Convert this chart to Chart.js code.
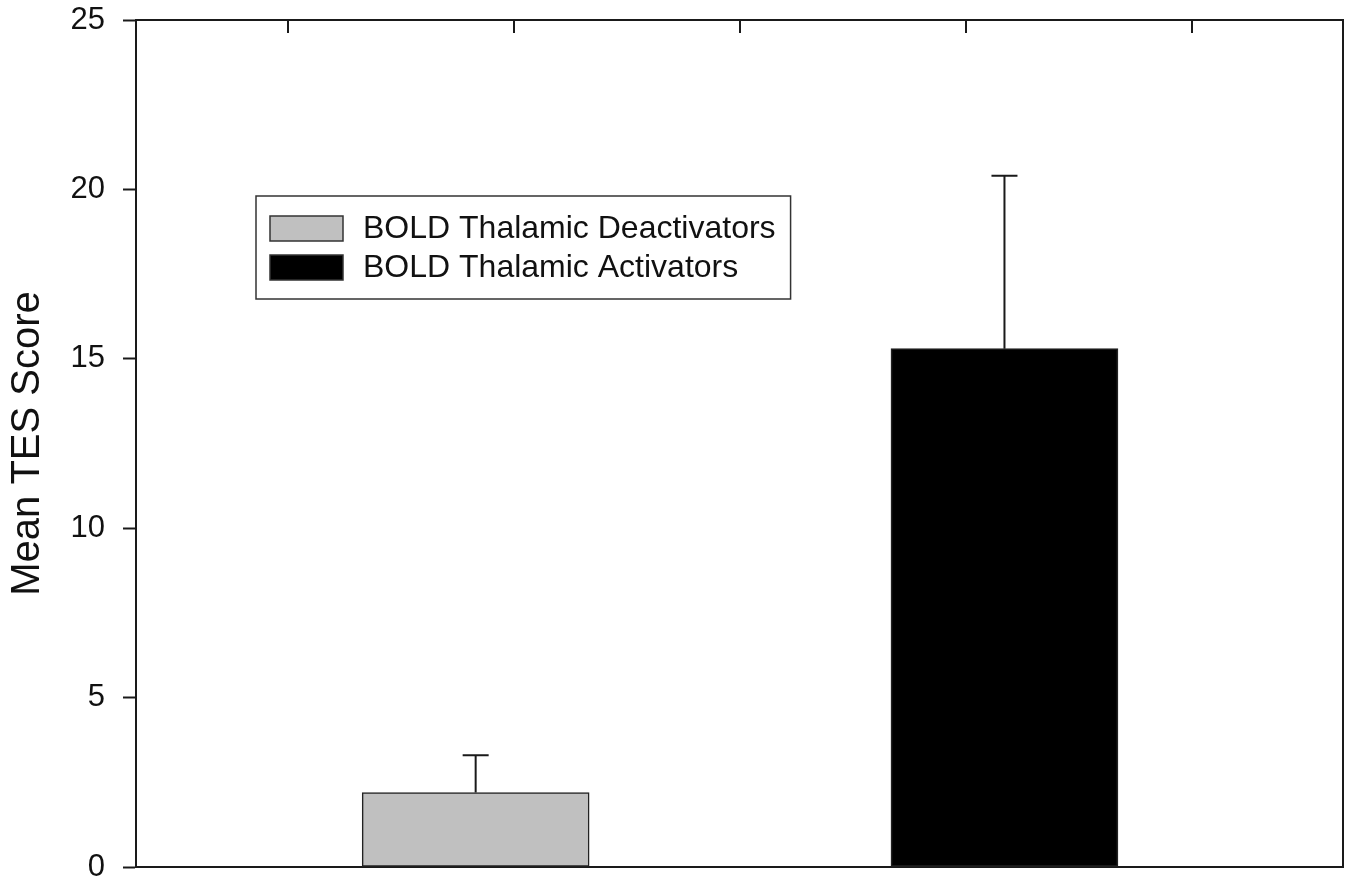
<!DOCTYPE html>
<html lang="en">
<head>
    <style>
        body {
            margin: 0;
            background-color: #fff;
        }

        #chartContainer {
            width: 1350px;
            height: 880px;
        }
    </style>
</head>
<body>

<div id="chartContainer">
    <canvas id="tesChart"></canvas>
</div>

<script src="https://cdn.jsdelivr.net/npm/chart.js"></script>
<script>
    // Values
    const groups = ['BOLD Thalamic Deactivators', 'BOLD Thalamic Activators'];
    const barX = [1.83, 4.17];
    const meanTES = [2.2, 15.3];
    const errUp = [1.1, 5.1];
    const barColors = ['#c0c0c0', '#000000'];
    const yTicks = [0, 5, 10, 15, 20, 25];
    const topTicks = [1, 2, 3, 4, 5];

    const fontFamily = 'Arial, "Liberation Sans", sans-serif';
    const axisColor = '#1a1a1a';

    // Upward error bars with caps
    const errorBars = {
        id: 'errorBars',
        afterDatasetsDraw(chart) {
            const ctx = chart.ctx;
            const yScale = chart.scales.y;
            ctx.save();
            ctx.strokeStyle = axisColor;
            ctx.lineWidth = 2;
            chart.data.datasets.forEach((ds, i) => {
                const bar = chart.getDatasetMeta(i).data[0];
                const top = yScale.getPixelForValue(meanTES[i] + errUp[i]);
                ctx.beginPath();
                ctx.moveTo(bar.x, bar.y);
                ctx.lineTo(bar.x, top);
                ctx.moveTo(bar.x - 13, top);
                ctx.lineTo(bar.x + 13, top);
                ctx.stroke();
            });
            ctx.restore();
        }
    };

    // Inward tick marks on the top axis
    const topTickMarks = {
        id: 'topTickMarks',
        afterDraw(chart) {
            const ctx = chart.ctx;
            const x2 = chart.scales.x2;
            const top = chart.chartArea.top;
            ctx.save();
            ctx.strokeStyle = axisColor;
            ctx.lineWidth = 2;
            topTicks.forEach(t => {
                const px = Math.round(x2.getPixelForValue(t));
                ctx.beginPath();
                ctx.moveTo(px, top);
                ctx.lineTo(px, top + 13);
                ctx.stroke();
            });
            ctx.restore();
        }
    };

    // Boxed legend inside the plot area
    const boxLegend = {
        id: 'boxLegend',
        afterDraw(chart) {
            const ctx = chart.ctx;
            const area = chart.chartArea;
            ctx.save();
            ctx.font = '32px ' + fontFamily;
            const textW = Math.max(...chart.data.datasets.map(ds => ctx.measureText(ds.label).width));
            const left = area.left + 120;
            const top = area.top + 176;
            const swW = 73, swH = 25, rowH = 39;
            const boxW = 14 + swW + 20 + textW + 15;
            const boxH = 20 + rowH + swH + 19;

            ctx.strokeStyle = '#333';
            ctx.lineWidth = 1.5;
            ctx.fillStyle = '#fff';
            ctx.fillRect(left, top, boxW, boxH);
            ctx.strokeRect(left, top, boxW, boxH);

            chart.data.datasets.forEach((ds, i) => {
                const sy = top + 20 + i * rowH;
                ctx.fillStyle = ds.backgroundColor;
                ctx.fillRect(left + 14, sy, swW, swH);
                ctx.strokeStyle = '#333';
                ctx.strokeRect(left + 14, sy, swW, swH);
                ctx.fillStyle = '#111';
                ctx.textBaseline = 'middle';
                ctx.fillText(ds.label, left + 14 + swW + 20, sy + swH / 2 + 1);
            });
            ctx.restore();
        }
    };

    const tesCtx = document.getElementById('tesChart').getContext('2d');

    new Chart(tesCtx, {
        type: 'bar',
        data: {
            datasets: groups.map((g, i) => ({
                label: g,
                data: [{ x: barX[i], y: meanTES[i] }],
                backgroundColor: barColors[i],
                borderColor: '#222',
                borderWidth: 1.5,
                borderSkipped: false,
                barThickness: 227,
                grouped: false
            }))
        },
        options: {
            responsive: true,
            maintainAspectRatio: false,
            animation: false,
            layout: { padding: 0 },
            plugins: {
                legend: { display: false },
                tooltip: { enabled: false }
            },
            scales: {
                x: {
                    type: 'linear',
                    position: 'bottom',
                    offset: false,
                    min: 0.327,
                    max: 5.668,
                    ticks: { display: false },
                    grid: { display: false, drawTicks: false },
                    border: { display: true, color: axisColor, width: 2 },
                    afterFit: s => { s.height = 13; }
                },
                x2: {
                    type: 'linear',
                    position: 'top',
                    offset: false,
                    min: 0.327,
                    max: 5.668,
                    afterBuildTicks: s => { s.ticks = topTicks.map(v => ({ value: v })); },
                    ticks: { display: false },
                    grid: { drawOnChartArea: false, drawTicks: false },
                    border: { display: true, color: axisColor, width: 2 },
                    afterFit: s => { s.height = 20; }
                },
                y: {
                    min: 0,
                    max: 25,
                    afterBuildTicks: s => { s.ticks = yTicks.map(v => ({ value: v })); },
                    ticks: {
                        color: '#111',
                        padding: 18,
                        font: { family: fontFamily, size: 31 }
                    },
                    grid: {
                        drawOnChartArea: false,
                        tickLength: 13,
                        tickColor: axisColor,
                        tickWidth: 2
                    },
                    border: { display: true, color: axisColor, width: 2 },
                    title: {
                        display: true,
                        text: 'Mean TES Score',
                        color: '#111',
                        padding: { top: 4, bottom: 0 },
                        font: { family: fontFamily, size: 40 }
                    },
                    afterFit: s => {
                        s.width = 136;
                        s.paddingTop = 0;
                        s.paddingBottom = 0;
                    }
                },
                y2: {
                    position: 'right',
                    min: 0,
                    max: 25,
                    ticks: { display: false },
                    grid: { display: false, drawTicks: false },
                    border: { display: true, color: axisColor, width: 2 },
                    afterFit: s => { s.width = 7; }
                }
            }
        },
        plugins: [errorBars, topTickMarks, boxLegend]
    });
</script>

</body>
</html>
